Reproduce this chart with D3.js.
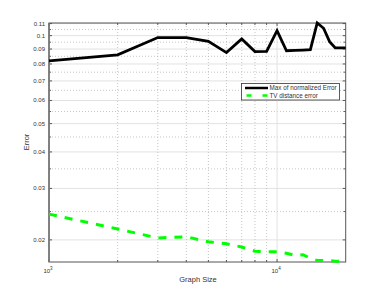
<!DOCTYPE html>
<html><head><meta charset="utf-8">
<script src="https://cdn.jsdelivr.net/npm/d3@7"></script>
<style>body{margin:0;background:#fff}svg{display:block}text{font-family:"Liberation Sans",Arial,sans-serif;fill:#333}</style>
</head><body><svg id="c" width="382" height="295"></svg>
<script>
const graphSize = [1000,2000,3000,4000,5000,6000,7000,8000,9000,10000,11000,12000,13000,14000,15000,16000,17000,18000,19000,20000];
const maxNormErr = [0.0820,0.0860,0.0985,0.0985,0.0957,0.0875,0.0975,0.0882,0.0884,0.1040,0.0888,0.0890,0.0893,0.0896,0.1105,0.1060,0.0954,0.0908,0.0908,0.0908];
const tvErr = [0.0245,0.0218,0.0203,0.0205,0.0197,0.0194,0.0189,0.0183,0.0182,0.0182,0.0180,0.0177,0.0178,0.0173,0.0170,0.0170,0.0170,0.0169,0.0169,0.0168];
const yMajor = [0.02,0.03,0.04,0.05,0.06,0.07,0.08,0.09,0.1,0.11];
const yMajorLabels = ["0.02","0.03","0.04","0.05","0.06","0.07","0.08","0.09","0.1","0.11"];
const yMinor = [0.025,0.035,0.045,0.055,0.065,0.075,0.085,0.095,0.105];
const xMajor = [1000,10000];
const xMajorExp = ["3","4"];
const xMinor = [2000,3000,4000,5000,6000,7000,8000,9000];
const seriesNames = ["Max of normalized Error","TV distance error"];

const L=49,R=345.7,T=23,B=262;
const svg=d3.select("#c");
const x=d3.scaleLog().domain([1000,20000]).range([L,R]);
const yAll=maxNormErr.concat(tvErr);
const y=d3.scaleLog().domain([d3.min(yAll),d3.max(yAll)]).range([B,T]);

const g=svg.append("g");
// grid
g.selectAll(".hmaj").data(yMajor).join("line").attr("x1",L).attr("x2",R)
 .attr("y1",d=>y(d)).attr("y2",d=>y(d)).attr("stroke","#e2e2e2").attr("stroke-width",1);
g.selectAll(".hmin").data(yMinor).join("line").attr("x1",L).attr("x2",R)
 .attr("y1",d=>y(d)).attr("y2",d=>y(d)).attr("stroke","#b8b8b8").attr("stroke-width",0.8).attr("stroke-dasharray","1,2");
g.selectAll(".vmin").data(xMinor).join("line").attr("y1",T).attr("y2",B)
 .attr("x1",d=>x(d)).attr("x2",d=>x(d)).attr("stroke","#b8b8b8").attr("stroke-width",0.8).attr("stroke-dasharray","1,2");
g.selectAll(".vmaj").data(xMajor.slice(1)).join("line").attr("y1",T).attr("y2",B)
 .attr("x1",d=>x(d)).attr("x2",d=>x(d)).attr("stroke","#e2e2e2").attr("stroke-width",1);

// ticks
const tk=svg.append("g").attr("stroke","#333").attr("stroke-width",0.8);
yMajor.concat(yMinor).forEach(v=>{
  const len = yMajor.includes(v)?3:2;
  tk.append("line").attr("x1",L).attr("x2",L+len).attr("y1",y(v)).attr("y2",y(v));
  tk.append("line").attr("x1",R).attr("x2",R-len).attr("y1",y(v)).attr("y2",y(v));
});
xMajor.concat(xMinor).forEach(v=>{
  const len = xMajor.includes(v)?3:2;
  tk.append("line").attr("y1",B).attr("y2",B-len).attr("x1",x(v)).attr("x2",x(v));
  tk.append("line").attr("y1",T).attr("y2",T+len).attr("x1",x(v)).attr("x2",x(v));
});

// frame
svg.append("rect").attr("x",L).attr("y",T).attr("width",R-L).attr("height",B-T)
 .attr("fill","none").attr("stroke","#555").attr("stroke-width",1);
svg.append("line").attr("x1",L).attr("x2",L).attr("y1",T).attr("y2",B).attr("stroke","#777").attr("stroke-width",1.6);

// y labels
svg.selectAll(".yl").data(yMajor).join("text").attr("x",L-4).attr("y",d=>y(d)+2)
 .attr("text-anchor","end").attr("font-size",6).text((d,i)=>yMajorLabels[i]);
// x labels
xMajor.forEach((v,i)=>{
  const t=svg.append("text").attr("x",x(v)-1).attr("y",273).attr("text-anchor","middle").attr("font-size",6);
  t.append("tspan").text("10");
  t.append("tspan").attr("dy",-3).attr("font-size",4.5).text(xMajorExp[i]);
});
svg.append("text").attr("x",198).attr("y",282).attr("text-anchor","middle").attr("font-size",7.5).text("Graph Size");
svg.append("text").attr("transform","translate(29,142) rotate(-90)").attr("text-anchor","middle").attr("font-size",7.5).text("Error");

// lines
const line=(arr)=>d3.line().x((d,i)=>x(graphSize[i])).y(d=>y(d))(arr);
svg.append("path").attr("d",line(tvErr)).attr("fill","none").attr("stroke","#00ff00").attr("stroke-width",3).attr("stroke-dasharray","8,8");
svg.append("path").attr("d",line(maxNormErr)).attr("fill","none").attr("stroke","#000").attr("stroke-width",2.8);

// legend
const lg=svg.append("g");
lg.append("rect").attr("x",241.5).attr("y",83.5).attr("width",98).attr("height",16.5).attr("fill","#fff").attr("stroke","#333").attr("stroke-width",0.8);
lg.append("line").attr("x1",245).attr("x2",268).attr("y1",88).attr("y2",88).attr("stroke","#000").attr("stroke-width",2.5);
lg.append("line").attr("x1",246.5).attr("x2",268).attr("y1",95.5).attr("y2",95.5).attr("stroke","#00ff00").attr("stroke-width",2.5).attr("stroke-dasharray","5,11");
lg.append("text").attr("x",269.5).attr("y",90.2).attr("font-size",6.3).text(seriesNames[0]);
lg.append("text").attr("x",269.5).attr("y",97.6).attr("font-size",6.3).text(seriesNames[1]);
</script></body></html>
